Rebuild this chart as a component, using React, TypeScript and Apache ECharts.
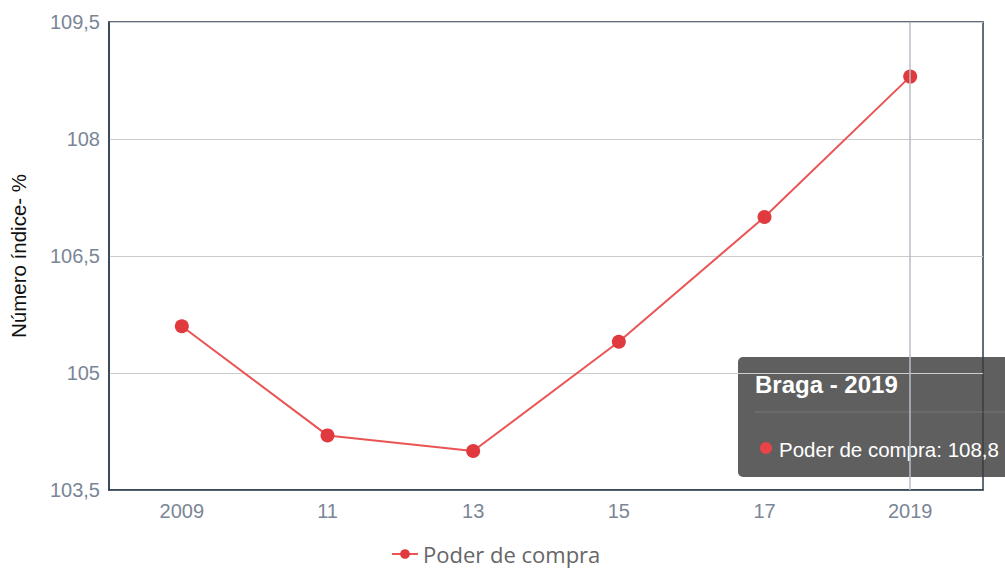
import React, { useEffect, useRef } from "react";
import * as echarts from "echarts";

const categories = ["2009", "11", "13", "15", "17", "2019"];
const poderDeCompra = [105.6, 104.2, 104.0, 105.4, 107.0, 108.8];
const seriesName = "Poder de compra";
const yAxisName = "Número índice- %";
const tooltipTitle = "Braga - 2019";
const highlightedCategory = "2019";

const fmt = (v: number) => String(v).replace(".", ",");

export default function App() {
  const ref = useRef<HTMLDivElement>(null);
  useEffect(() => {
    if (!ref.current) return;
    const chart = echarts.init(ref.current, null, { renderer: "svg" });
    const hiIdx = categories.indexOf(highlightedCategory);
    const hiVal = poderDeCompra[hiIdx];
    chart.setOption({
      animation: false,
      grid: {
        left: 107,
        right: 22,
        top: 22,
        bottom: 80,
        show: true,
        borderColor: "#2c3e50",
        borderWidth: 1.5,
      },
      xAxis: {
        type: "category",
        data: categories,
        boundaryGap: true,
        axisLine: { show: true, lineStyle: { color: "#2c3e50", width: 1.5 } },
        axisTick: { show: false },
        axisLabel: {
          color: "#7a8696",
          fontSize: 20,
          margin: 11,
          fontFamily: "Liberation Sans, Arial, sans-serif",
        },
        splitLine: { show: false },
      },
      yAxis: {
        type: "value",
        min: 103.5,
        max: 109.5,
        interval: 1.5,
        name: yAxisName,
        nameLocation: "middle",
        nameGap: 80,
        nameTextStyle: {
          color: "#111",
          fontSize: 20.5,
          fontFamily: "Liberation Sans, Arial, sans-serif",
        },
        axisLine: { show: true, lineStyle: { color: "#2c3e50", width: 1.5 } },
        axisTick: { show: false },
        axisLabel: {
          color: "#7a8696",
          fontSize: 20,
          margin: 9,
          fontFamily: "Liberation Sans, Arial, sans-serif",
          formatter: (v: number) => fmt(v),
        },
        splitLine: { show: true, lineStyle: { color: "#cccccc", width: 1 } },
      },
      legend: {
        bottom: 0,
        left: 386,
        data: [seriesName],
        itemWidth: 26,
        itemHeight: 12,
        itemGap: 8,
        textStyle: {
          color: "#666",
          fontSize: 22,
          fontFamily: "Open Sans, sans-serif",
        },
      },
      series: [
        {
          name: seriesName,
          type: "line",
          data: poderDeCompra,
          symbol: "circle",
          symbolSize: 14,
          lineStyle: { color: "#ea5455", width: 2 },
          itemStyle: { color: "#e0393e" },
          markLine: {
            silent: true,
            symbol: "none",
            label: { show: false },
            lineStyle: { color: "#b8bcc4", width: 1.5, type: "solid" },
            data: [{ xAxis: highlightedCategory }],
          },
          z: 3,
        },
      ],
      graphic: [
        {
          type: "group",
          z: 100,
          children: [
            {
              type: "rect",
              shape: { x: 738, y: 357, width: 290, height: 120, r: 5 },
              style: { fill: "rgba(60,60,60,0.82)" },
            },
            {
              type: "text",
              x: 755,
              y: 384,
              style: {
                text: tooltipTitle,
                fill: "#fff",
                fontSize: 24,
                fontWeight: "bold",
                fontFamily: "Liberation Sans, Arial, sans-serif",
                verticalAlign: "middle",
              },
            },
            {
              type: "line",
              shape: { x1: 755, y1: 412, x2: 1005, y2: 412 },
              style: { stroke: "rgba(255,255,255,0.15)", lineWidth: 1 },
            },
            {
              type: "circle",
              shape: { cx: 766, cy: 448, r: 6 },
              style: { fill: "#e84347" },
            },
            {
              type: "text",
              x: 779,
              y: 449,
              style: {
                text: seriesName + ": " + fmt(hiVal),
                fill: "#fff",
                fontSize: 20.5,
                fontFamily: "Liberation Sans, Arial, sans-serif",
                verticalAlign: "middle",
              },
            },
          ],
        },
      ],
    });
    return () => chart.dispose();
  }, []);
  return (
    <div
      ref={ref}
      style={{ position: "fixed", left: 0, top: 0, width: 1005, height: 570, background: "#fff" }}
    />
  );
}
